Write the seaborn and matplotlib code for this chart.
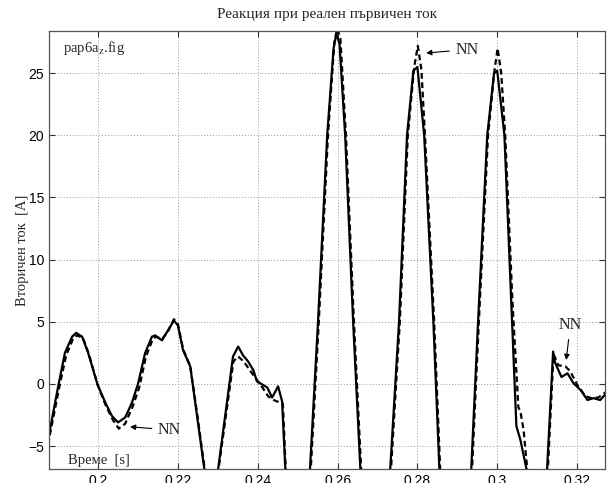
import numpy as np
import pandas as pd
import matplotlib
matplotlib.use("Agg")
import matplotlib.pyplot as plt
import seaborn as sns

# time [s] and secondary current [A]
t_real = [0.1870, 0.1900, 0.1917, 0.1935, 0.1945, 0.1960, 0.1975, 0.1998, 0.2018, 0.2035,
          0.2050, 0.2068, 0.2085, 0.2100, 0.2118, 0.2135, 0.2143, 0.2160, 0.2175, 0.2190,
          0.2200, 0.2213, 0.2231, 0.2248, 0.2266, 0.2284, 0.2301, 0.2338, 0.2351, 0.2363,
          0.2376, 0.2389, 0.2398, 0.2414, 0.2424, 0.2436, 0.2451, 0.2461, 0.2469, 0.2478,
          0.2510, 0.2531, 0.2551, 0.2574, 0.2590, 0.2597, 0.2605, 0.2619, 0.2639, 0.2657,
          0.2676, 0.2713, 0.2732, 0.2754, 0.2774, 0.2790, 0.2800, 0.2817, 0.2840, 0.2855,
          0.2874, 0.2916, 0.2935, 0.2952, 0.2975, 0.2992, 0.3000, 0.3018, 0.3035, 0.3048,
          0.3058, 0.3073, 0.3090, 0.3110, 0.3125, 0.3140, 0.3145, 0.3161, 0.3176, 0.3191,
          0.3209, 0.3226, 0.3241, 0.3258, 0.3275]
i_real = [-5.3, -0.2, 2.5, 3.8, 4.1, 3.8, 2.5, 0.0, -1.5, -2.6,
          -3.1, -2.7, -1.5, 0.0, 2.5, 3.8, 3.9, 3.5, 4.3, 5.1,
          4.7, 2.7, 1.4, -2.6, -6.8, -13.0, -6.8, 2.2, 3.0, 2.3,
          1.8, 1.1, 0.2, -0.1, -0.3, -1.1, -0.2, -1.4, -6.8, -18.0,
          -19.0, -6.8, 5.0, 20.0, 27.0, 28.2, 27.3, 20.0, 5.0, -6.8,
          -19.0, -19.0, -6.8, 5.0, 20.0, 25.2, 25.5, 20.0, 5.0, -6.8,
          -19.0, -19.0, -6.8, 5.0, 20.0, 25.0, 25.2, 20.0, 6.7, -3.4,
          -4.5, -6.8, -11.0, -16.0, -6.8, 2.6, 1.7, 0.55, 0.85, 0.05,
          -0.5, -1.3, -1.15, -1.3, -0.7]

t_nn = [0.1870, 0.1902, 0.1920, 0.1937, 0.1947, 0.1962, 0.1977, 0.1999, 0.2020, 0.2037,
        0.2052, 0.2068, 0.2087, 0.2103, 0.2120, 0.2137, 0.2145, 0.2160, 0.2175, 0.2190,
        0.2200, 0.2213, 0.2231, 0.2249, 0.2267, 0.2285, 0.2302, 0.2339, 0.2351, 0.2365,
        0.2378, 0.2398, 0.2412, 0.2426, 0.2440, 0.2455, 0.2463, 0.2470, 0.2479, 0.2511,
        0.2533, 0.2553, 0.2576, 0.2592, 0.2599, 0.2607, 0.2621, 0.2641, 0.2659, 0.2678,
        0.2715, 0.2734, 0.2756, 0.2776, 0.2792, 0.2801, 0.2810, 0.2819, 0.2842, 0.2857,
        0.2876, 0.2918, 0.2937, 0.2954, 0.2977, 0.2993, 0.3001, 0.3010, 0.3020, 0.3038,
        0.3053, 0.3058, 0.3066, 0.3075, 0.3092, 0.3112, 0.3127, 0.3141, 0.3153, 0.3171,
        0.3183, 0.3201, 0.3221, 0.3236, 0.3253, 0.3275]
i_nn = [-5.6, -0.4, 2.3, 3.6, 3.9, 3.7, 2.4, -0.1, -1.8, -2.9,
        -3.6, -3.2, -1.8, -0.3, 2.2, 3.6, 3.8, 3.6, 4.2, 5.2,
        4.8, 2.8, 1.4, -2.6, -6.8, -13.0, -6.8, 1.8, 2.2, 1.8,
        1.2, 0.3, -0.3, -1.0, -1.3, -1.5, -1.6, -6.8, -18.0, -19.0,
        -6.8, 5.0, 20.0, 27.5, 28.6, 27.8, 20.0, 5.0, -6.8, -19.0,
        -19.0, -6.8, 5.0, 20.0, 25.5, 27.2, 25.3, 20.0, 5.0, -6.8,
        -19.0, -19.0, -6.8, 5.0, 20.0, 25.2, 27.0, 25.0, 20.0, 6.7,
        -1.9, -2.2, -3.7, -6.8, -11.0, -16.0, -6.8, 2.4, 1.5, 1.4,
        1.0, -0.1, -1.0, -1.15, -1.1, -0.6]

x_ticks = [0.2, 0.22, 0.24, 0.26, 0.28, 0.3, 0.32]
x_labels = ["0.2", "0.22", "0.24", "0.26", "0.28", "0.3", "0.32"]
y_ticks = [-5, 0, 5, 10, 15, 20, 25]

real = pd.DataFrame({"t": t_real, "i": i_real})
nn = pd.DataFrame({"t": t_nn, "i": i_nn})

sns.set_style("ticks")
plt.rcParams["font.family"] = ["Liberation Sans", "DejaVu Sans"]
plt.rcParams["mathtext.fontset"] = "stix"
serif = ["Liberation Serif", "DejaVu Serif"]

fig = plt.figure(figsize=(6.1, 4.83), dpi=100)
ax = fig.add_axes([0.0803, 0.029, 0.9115, 0.907])

sns.lineplot(data=real, x="t", y="i", sort=False, estimator=None,
             color="black", linewidth=1.6, ax=ax)
sns.lineplot(data=nn, x="t", y="i", sort=False, estimator=None,
             color="black", linewidth=1.6, linestyle=(0, (2.6, 1.6)), ax=ax)

ax.set_xlim(0.1877, 0.327)
ax.set_ylim(-6.85, 28.4)
ax.set_xticks(x_ticks)
ax.set_xticklabels(x_labels)
ax.set_yticks(y_ticks)
ax.tick_params(direction="in", top=True, right=True, labelsize=10,
               length=4, width=0.8, colors="#333333", labelcolor="black")
ax.grid(True, linestyle=(0, (1, 2)), color="#999999", linewidth=0.7)
for s in ax.spines.values():
    s.set_color("#555555")
    s.set_linewidth(0.9)

ax.set_xlabel("")
ax.set_ylabel("Вторичен ток  [A]", family=serif, fontsize=10.5)
ax.yaxis.set_label_coords(-0.036, 0.5)
ax.set_title("Реакция при реален първичен ток", family=serif, fontsize=11, pad=9)

ax.text(0.1912, 27.0, r"pap6a$_{\mathrm{z}}$.fig", family=serif, fontsize=10.5,
        va="center", ha="left")
ax.text(0.1925, -6.15, "Време  [s]", family=serif, fontsize=10.5,
        va="center", ha="left")

arrow = dict(arrowstyle="-|>", color="black", lw=0.8, mutation_scale=8)
ax.annotate("NN", xy=(0.2073, -3.44), xytext=(0.2150, -3.7), family=serif,
            fontsize=11.5, va="center", ha="left", arrowprops=arrow)
ax.annotate("NN", xy=(0.2815, 26.6), xytext=(0.2895, 26.9), family=serif,
            fontsize=11.5, va="center", ha="left", arrowprops=arrow)
ax.annotate("NN", xy=(0.3172, 1.7), xytext=(0.3183, 4.7), family=serif,
            fontsize=11.5, va="center", ha="center", arrowprops=arrow)

fig.savefig("out.png", dpi=100)
